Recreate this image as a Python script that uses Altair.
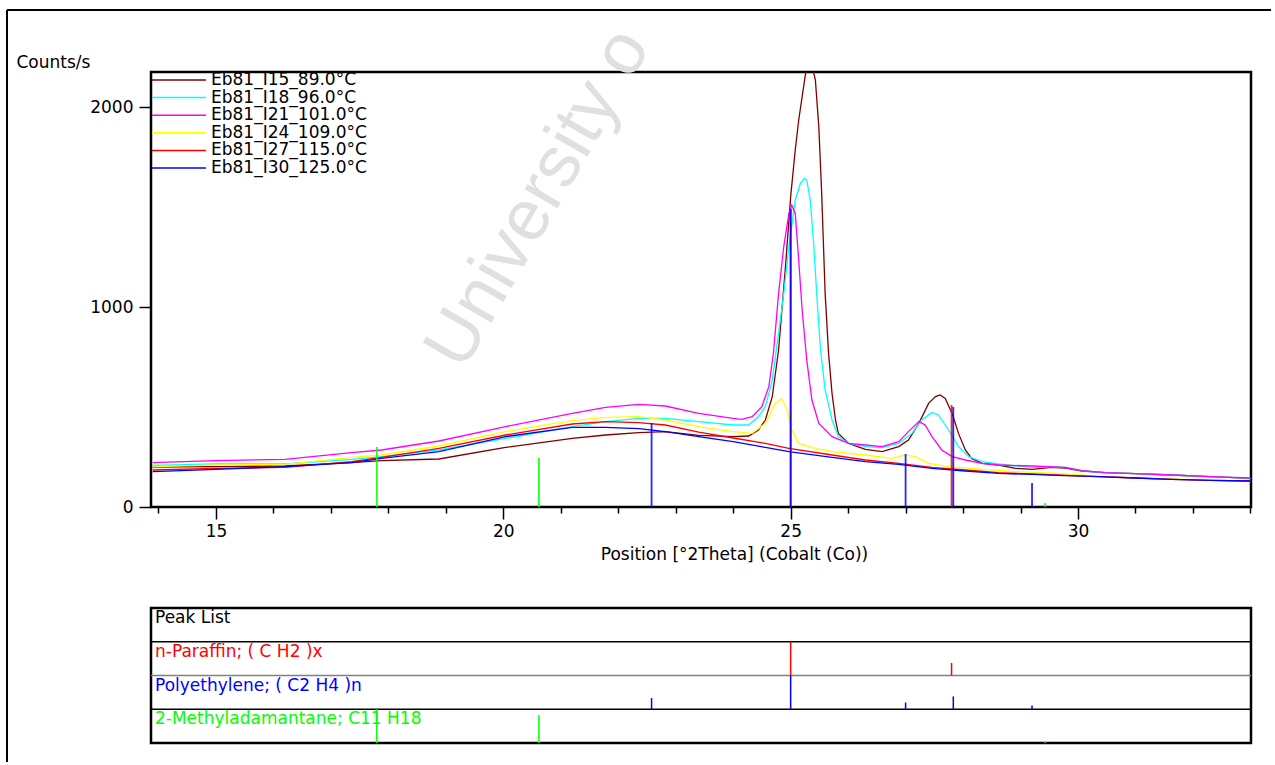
import altair as alt
import pandas as pd

FONT = "DejaVu Sans"

# ---------------- data ----------------
series_names = ["Eb81_I15_89.0°C", "Eb81_I18_96.0°C", "Eb81_I21_101.0°C",
                "Eb81_I24_109.0°C", "Eb81_I27_115.0°C", "Eb81_I30_125.0°C"]
series_colors = ["#800000", "#00FFFF", "#FF00FF", "#FFFF00", "#FF0000", "#0000FF"]

i15_x = [13.9, 15.0, 16.2, 17.36, 17.88, 18.88, 20.04, 21.2, 21.78, 22.36, 22.82, 23.4, 24.0, 24.27,
         24.44, 24.56, 24.68, 24.79, 24.91, 25.0, 25.08, 25.14, 25.26, 25.33, 25.43, 25.49, 25.54,
         25.6, 25.66, 25.72, 25.78, 25.83, 26.01, 26.3, 26.59, 26.88, 27.05, 27.23, 27.4, 27.52,
         27.6, 27.69, 27.81, 27.92, 28.04, 28.15, 28.33, 28.62, 28.91, 29.2, 29.54, 29.78, 30.07,
         30.47, 31.0, 31.63, 32.3, 33.0]
i15_y = [200, 202, 205, 222, 232, 240, 298, 343, 360, 372, 377, 358, 352, 355,
         385, 435, 552, 785, 1202, 1552, 1785, 1935, 2168, 2260, 2135, 1902, 1568,
         1068, 768, 568, 435, 368, 318, 288, 277, 302, 335, 418, 518, 552,
         560, 543, 468, 368, 285, 243, 218, 210, 193, 188, 198, 195, 180,
         172, 167, 160, 152, 143]

i18_x = [13.9, 15.0, 16.2, 17.36, 17.88, 18.88, 20.04, 21.2, 21.78, 22.36, 22.82, 23.4, 24.0, 24.27,
         24.44, 24.56, 24.68, 24.79, 24.88, 24.97, 25.08, 25.17, 25.24, 25.28, 25.34, 25.4, 25.46,
         25.52, 25.6, 25.72, 25.83, 26.01, 26.3, 26.59, 26.88, 27.11, 27.28, 27.46, 27.57, 27.75,
         27.92, 28.1, 28.33, 28.62, 28.91, 29.2, 29.54, 29.78, 30.07, 30.47, 31.0, 31.63, 32.3, 33.0]
i18_y = [208, 215, 215, 238, 252, 285, 343, 402, 427, 443, 443, 427, 410, 410,
         452, 502, 635, 868, 1068, 1302, 1535, 1618, 1643, 1635, 1535, 1318, 1035,
         785, 585, 435, 352, 318, 302, 297, 318, 368, 435, 472, 460, 385,
         302, 252, 227, 215, 205, 198, 202, 198, 182, 172, 167, 160, 152, 143]

i21_x = [13.9, 15.0, 16.2, 17.36, 17.88, 18.88, 20.04, 21.2, 21.78, 22.36, 22.82, 23.4, 24.0, 24.15,
         24.33, 24.5, 24.62, 24.7, 24.79, 24.88, 24.97, 25.02, 25.08, 25.14, 25.2, 25.28, 25.37,
         25.49, 25.72, 26.01, 26.3, 26.59, 26.88, 27.05, 27.23, 27.34, 27.46, 27.63, 27.81, 28.04,
         28.33, 28.62, 29.2, 29.78, 30.07, 30.47, 31.0, 31.63, 32.3, 33.0]
i21_y = [222, 232, 238, 272, 285, 330, 402, 468, 498, 513, 505, 468, 443, 438,
         452, 502, 602, 768, 1068, 1302, 1468, 1510, 1468, 1235, 985, 735, 535,
         418, 352, 318, 310, 302, 327, 377, 427, 410, 352, 285, 252, 235,
         218, 210, 205, 198, 182, 172, 167, 160, 152, 145]

i24_x = [13.9, 15.0, 16.2, 17.36, 17.88, 18.88, 20.04, 21.2, 21.78, 22.36, 22.82, 23.4, 24.0, 24.33,
         24.56, 24.73, 24.84, 24.94, 25.02, 25.14, 25.43, 25.72, 26.3, 26.76, 26.99, 27.17, 27.4,
         27.75, 28.33, 28.91, 29.49, 30.07, 30.47, 31.0, 31.63, 32.3, 33.0]
i24_y = [202, 210, 213, 248, 260, 305, 377, 432, 448, 452, 435, 402, 377, 368,
         418, 518, 543, 485, 385, 318, 293, 277, 260, 243, 260, 252, 218,
         202, 188, 177, 170, 160, 152, 145, 140, 133, 127]

i27_x = [13.9, 15.0, 16.2, 17.36, 17.88, 18.88, 20.04, 21.2, 21.78, 22.36, 22.82, 23.4, 24.0, 24.56,
         24.97, 25.72, 26.3, 26.88, 27.46, 28.04, 28.62, 29.2, 29.78, 30.36, 31.0, 31.63, 32.3, 33.0]
i27_y = [185, 193, 198, 227, 248, 293, 360, 415, 427, 422, 410, 374, 345, 318,
         293, 260, 235, 218, 198, 185, 172, 165, 158, 152, 145, 138, 133, 130]

i30_x = [13.9, 15.0, 16.2, 17.36, 17.88, 18.88, 20.04, 21.2, 21.78, 22.36, 22.82, 23.4, 24.0, 24.56,
         24.97, 25.72, 26.3, 26.88, 27.46, 28.04, 28.62, 29.2, 29.78, 30.36, 31.0, 31.63, 32.3, 33.0]
i30_y = [177, 188, 202, 222, 243, 277, 352, 398, 398, 392, 377, 352, 327, 298,
         277, 248, 227, 213, 193, 180, 168, 163, 157, 152, 145, 138, 133, 130]

# reference patterns
phase_names = ["n-Paraffin; ( C H2 )x", "Polyethylene; ( C2 H4 )n", "2-Methyladamantane; C11 H18"]
phase_colors = ["#FF0000", "#0000FF", "#00FF00"]
paraffin_pos = [25.0, 27.8]
paraffin_counts = [1490, 510]
paraffin_rel = [1.0, 0.37]
pe_pos = [22.58, 25.0, 27.0, 27.83, 29.2]
pe_counts = [420, 1490, 265, 500, 120]
pe_rel = [0.33, 1.0, 0.2, 0.38, 0.11]
ma_pos = [17.8, 20.62, 29.43]
ma_counts = [300, 245, 20]
ma_rel = [1.0, 0.83, 0.05]

x_ticks = list(range(14, 34))
y_ticks = [0, 1000, 2000]
X_DOMAIN = [13.87, 33.01]
Y_DOMAIN = [0, 2175]

# ---------------- tables ----------------
curve_sets = [(i15_x, i15_y), (i18_x, i18_y), (i21_x, i21_y),
              (i24_x, i24_y), (i27_x, i27_y), (i30_x, i30_y)]
rows = []
for k, (name, (xs, ys)) in enumerate(zip(series_names, curve_sets)):
    for x, y in zip(xs, ys):
        rows.append({"series": name, "order": k, "theta": x, "counts": y})
curves_df = pd.DataFrame(rows)

phase_sets = [(paraffin_pos, paraffin_counts, paraffin_rel),
              (pe_pos, pe_counts, pe_rel),
              (ma_pos, ma_counts, ma_rel)]

xscale = alt.Scale(domain=X_DOMAIN, nice=False, zero=False)
yscale = alt.Scale(domain=Y_DOMAIN, nice=False, zero=False)
color_scale = alt.Scale(domain=series_names, range=series_colors)

dummy = pd.DataFrame({"d": [0]})

W, H = 1100, 435

# ---------------- main plot ----------------
watermark = alt.Chart(dummy).mark_text(
    text="University o", angle=300, fontSize=72, font="Liberation Sans",
    color="#E0E0E0", align="left", baseline="alphabetic"
).encode(x=alt.value(312), y=alt.value(300))

curves = alt.Chart(curves_df).mark_line(strokeWidth=1.3, clip=True).encode(
    x=alt.X("theta:Q", scale=xscale, axis=alt.Axis(
        values=x_ticks, format="d",
        labelExpr="datum.value % 5 === 0 ? datum.label : ''",
        tickSize={"condition": {"test": "datum.value % 5 === 0", "value": 12}, "value": 6},
        grid=False, domain=False, tickColor="black", tickWidth=1.5,
        labelFont=FONT, labelFontSize=17, labelColor="black", labelPadding=4,
        title="Position [°2Theta] (Cobalt (Co))", titleFont=FONT, titleFontSize=17,
        titleFontWeight="normal", titleColor="black", titleX=583, titleY=47,
        titleBaseline="middle", titleAlign="center")),
    y=alt.Y("counts:Q", scale=yscale, axis=alt.Axis(
        values=y_ticks, format="d", grid=False, domain=False, tickSize=12, tickColor="black",
        tickWidth=1.5, labelFont=FONT, labelFontSize=17, labelColor="black",
        labelPadding=6, title="Counts/s", titleFont=FONT, titleFontSize=17,
        titleFontWeight="normal", titleColor="black", titleAngle=0,
        titleAlign="left", titleBaseline="middle", titleX=-135, titleY=-10)),
    color=alt.Color("series:N", scale=color_scale, legend=None),
    order="order:Q",
    detail="series:N",
)

stick_layers = []
for name, color, (pos, cnt, rel) in zip(phase_names, phase_colors, phase_sets):
    sdf = pd.DataFrame({"theta": pos, "counts": cnt, "base": [0] * len(pos)})
    stick_layers.append(
        alt.Chart(sdf).mark_rule(color=color, strokeWidth=1.8, opacity=0.85).encode(
            x=alt.X("theta:Q"), y=alt.Y("counts:Q"), y2="base:Q"))

frame_v = alt.Chart(dummy).mark_rule(color="black", strokeWidth=2).encode(
    x=alt.value(-144), y=alt.value(-62), y2=alt.value(690))
frame_h = alt.Chart(dummy).mark_rule(color="black", strokeWidth=2).encode(
    x=alt.value(-144), x2=alt.value(1120), y=alt.value(-62))

core = alt.layer(watermark, curves, *stick_layers, frame_v, frame_h)

legend_df = pd.DataFrame({"series": series_names})
leg_y = alt.Y("series:N", scale=alt.Scale(type="point", domain=series_names,
                                          range=[8, 96], padding=0), axis=None)
legend_lines = alt.Chart(legend_df).mark_rule(strokeWidth=1.5).encode(
    x=alt.value(1), x2=alt.value(55), y=leg_y,
    color=alt.Color("series:N", scale=color_scale, legend=None))
legend_text = alt.Chart(legend_df).mark_text(
    align="left", baseline="middle", font=FONT, fontSize=17, color="black"
).encode(x=alt.value(60), y=leg_y, text="series:N")
legend = alt.layer(legend_lines, legend_text)

main = alt.layer(core, legend).resolve_scale(y="independent").properties(width=W, height=H)

# ---------------- peak list ----------------
pl_x = alt.Scale(domain=X_DOMAIN, nice=False, zero=False)
pl_y = alt.Scale(domain=[0, 4], nice=False, zero=False)

row_bases = [2, 1, 0]
sep_df = pd.DataFrame({"y": [3, 1]})
sep_gray_df = pd.DataFrame({"y": [2]})
sep = alt.Chart(sep_df).mark_rule(color="black", strokeWidth=1.5).encode(
    y=alt.Y("y:Q", scale=pl_y, axis=None))
sep_gray = alt.Chart(sep_gray_df).mark_rule(color="#808080", strokeWidth=1.5).encode(
    y=alt.Y("y:Q", scale=pl_y, axis=None))

pl_layers = [sep, sep_gray]
header_df = pd.DataFrame({"label": ["Peak List"], "top": [4]})
pl_layers.append(alt.Chart(header_df).mark_text(
    align="left", baseline="top", dy=2, font=FONT, fontSize=17, color="black"
).encode(x=alt.value(4), y=alt.Y("top:Q", scale=pl_y, axis=None), text="label:N"))

for name, color, base, (pos, cnt, rel) in zip(phase_names, phase_colors, row_bases, phase_sets):
    pdf = pd.DataFrame({"theta": pos, "lo": [base] * len(pos),
                        "hi": [base + r for r in rel]})
    pl_layers.append(alt.Chart(pdf).mark_rule(color=color, strokeWidth=1.5).encode(
        x=alt.X("theta:Q", scale=pl_x, axis=None),
        y=alt.Y("lo:Q", scale=pl_y, axis=None), y2="hi:Q"))
    ldf = pd.DataFrame({"label": [name], "top": [base + 1]})
    pl_layers.append(alt.Chart(ldf).mark_text(
        align="left", baseline="top", dy=2, font=FONT, fontSize=17, color=color
    ).encode(x=alt.value(4), y=alt.Y("top:Q", scale=pl_y, axis=None), text="label:N"))

peaklist = alt.layer(*pl_layers).properties(width=W, height=135)

chart = alt.vconcat(main, peaklist, spacing=101, bounds="flush").properties(
    padding={"left": 4, "top": 7, "right": 0, "bottom": 0},
    background="white",
).configure_view(stroke="black", strokeWidth=2.5)

chart.save("out.html", embed_options={"renderer": "svg", "actions": False})
